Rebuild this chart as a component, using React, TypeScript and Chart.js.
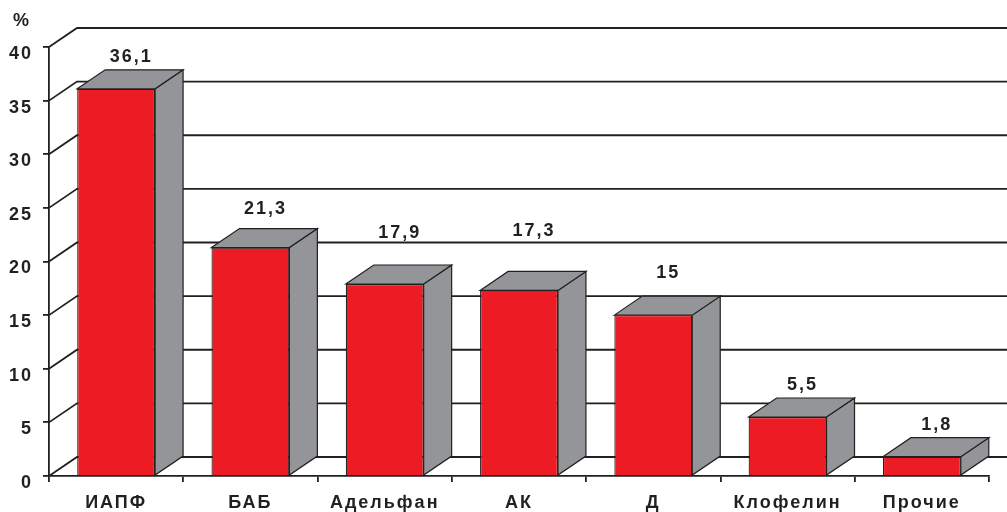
import { useEffect, useRef } from "react";
import { Chart, registerables } from "chart.js";

Chart.register(...registerables);

// Доля назначений антигипертензивных препаратов, %
const categories = ["ИАПФ", "БАБ", "Адельфан", "АК", "Д", "Клофелин", "Прочие"];
const shares = [36.1, 21.3, 17.9, 17.3, 15, 5.5, 1.8];
const axisMax = 40;
const axisStep = 5;

// extra upward nudge (px) of each value caption so it clears the wall lines
const labelLift = [0, 7, 19, 27, 10, 0, 0];

const RED = "#ED1C24";
const GREY = "#939598";
const INK = "#231F20";
const FONT_FAMILY = "'Liberation Sans', Arial, sans-serif";
const DX = 28; // depth offset, x
const DY = 19; // depth offset, y

const formatValue = (v: number) => String(v).replace(".", ",");

const depthPlugin = {
  id: "depth3d",
  beforeUpdate(chart: any) {
    chart.ctx.letterSpacing = "2px";
  },
  beforeDraw(chart: any) {
    chart.ctx.letterSpacing = "2px";
  },
  beforeDatasetsDraw(chart: any) {
    const { ctx, chartArea, scales } = chart;
    const yScale = scales.y;
    ctx.save();
    ctx.strokeStyle = INK;
    ctx.lineWidth = 1.8;
    ctx.lineJoin = "miter";
    yScale.ticks.forEach((t: any) => {
      const py = yScale.getPixelForValue(t.value);
      ctx.beginPath();
      ctx.moveTo(chartArea.left, py);
      ctx.lineTo(chartArea.left + DX, py - DY);
      ctx.lineTo(chart.width, py - DY);
      ctx.stroke();
    });
    ctx.restore();
  },
  afterDatasetsDraw(chart: any) {
    const { ctx } = chart;
    const meta = chart.getDatasetMeta(0);
    const poly = (pts: number[][]) => {
      ctx.beginPath();
      ctx.moveTo(pts[0][0], pts[0][1]);
      for (let k = 1; k < pts.length; k++) ctx.lineTo(pts[k][0], pts[k][1]);
      ctx.closePath();
      ctx.fill();
      ctx.stroke();
    };
    ctx.save();
    ctx.fillStyle = GREY;
    ctx.strokeStyle = INK;
    ctx.lineWidth = 1.2;
    ctx.lineJoin = "miter";
    meta.data.forEach((bar: any) => {
      const { x, y, base, width } = bar.getProps(["x", "y", "base", "width"], true);
      const l = x - width / 2;
      const r = x + width / 2;
      poly([[r, y], [r + DX, y - DY], [r + DX, base - DY], [r, base]]);
      poly([[l, y], [l + DX, y - DY], [r + DX, y - DY], [r, y]]);
    });
    ctx.fillStyle = INK;
    ctx.font = `bold 18px ${FONT_FAMILY}`;
    ctx.letterSpacing = "2px";
    ctx.textAlign = "center";
    ctx.textBaseline = "middle";
    meta.data.forEach((bar: any, i: number) => {
      const { x, y } = bar.getProps(["x", "y"], true);
      ctx.fillText(formatValue(shares[i]), x + DX / 2 + 1, y - DY - 13 - labelLift[i]);
    });
    ctx.font = `bold 18px ${FONT_FAMILY}`;
    ctx.letterSpacing = "0px";
    ctx.textAlign = "left";
    ctx.fillText("%", 13, 21);
    ctx.restore();
  },
};

export default function App() {
  const canvasRef = useRef<HTMLCanvasElement | null>(null);

  useEffect(() => {
    const canvas = canvasRef.current;
    if (!canvas) return;
    const tickFont = { family: FONT_FAMILY, size: 18, weight: "bold" as const };
    const chart = new Chart(canvas, {
      type: "bar",
      data: {
        labels: categories,
        datasets: [
          {
            data: shares,
            backgroundColor: RED,
            borderColor: INK,
            borderWidth: 1.2,
            categoryPercentage: 1,
            barPercentage: 0.58,
          },
        ],
      },
      options: {
        responsive: false,
        animation: false,
        devicePixelRatio: 1,
        layout: { padding: { left: 0, right: 18, top: 47, bottom: 0 } },
        plugins: {
          legend: { display: false },
          tooltip: { enabled: false },
        },
        scales: {
          x: {
            offset: true,
            grid: {
              offset: true,
              drawOnChartArea: false,
              drawTicks: true,
              tickLength: 6,
              color: INK,
              lineWidth: 1.8,
            },
            border: { display: true, color: INK, width: 1.8 },
            ticks: {
              font: tickFont,
              color: INK,
              padding: 10,
              autoSkip: false,
              maxRotation: 0,
            },
            afterFit: (scale: any) => {
              scale.height = 36;
            },
          },
          y: {
            min: 0,
            max: axisMax,
            grid: {
              drawOnChartArea: false,
              drawTicks: true,
              tickLength: 6,
              color: INK,
              lineWidth: 1.8,
            },
            border: { display: true, color: INK, width: 1.8 },
            ticks: {
              stepSize: axisStep,
              font: tickFont,
              color: INK,
              padding: 10,
              labelOffset: 7,
            },
            afterFit: (scale: any) => {
              scale.width = 49;
            },
          },
        },
      },
      plugins: [depthPlugin],
    });
    return () => chart.destroy();
  }, []);

  return (
    <div style={{ position: "absolute", left: 0, top: 0, width: 1007, height: 512, background: "#fff" }}>
      <canvas ref={canvasRef} width={1007} height={512} />
    </div>
  );
}
